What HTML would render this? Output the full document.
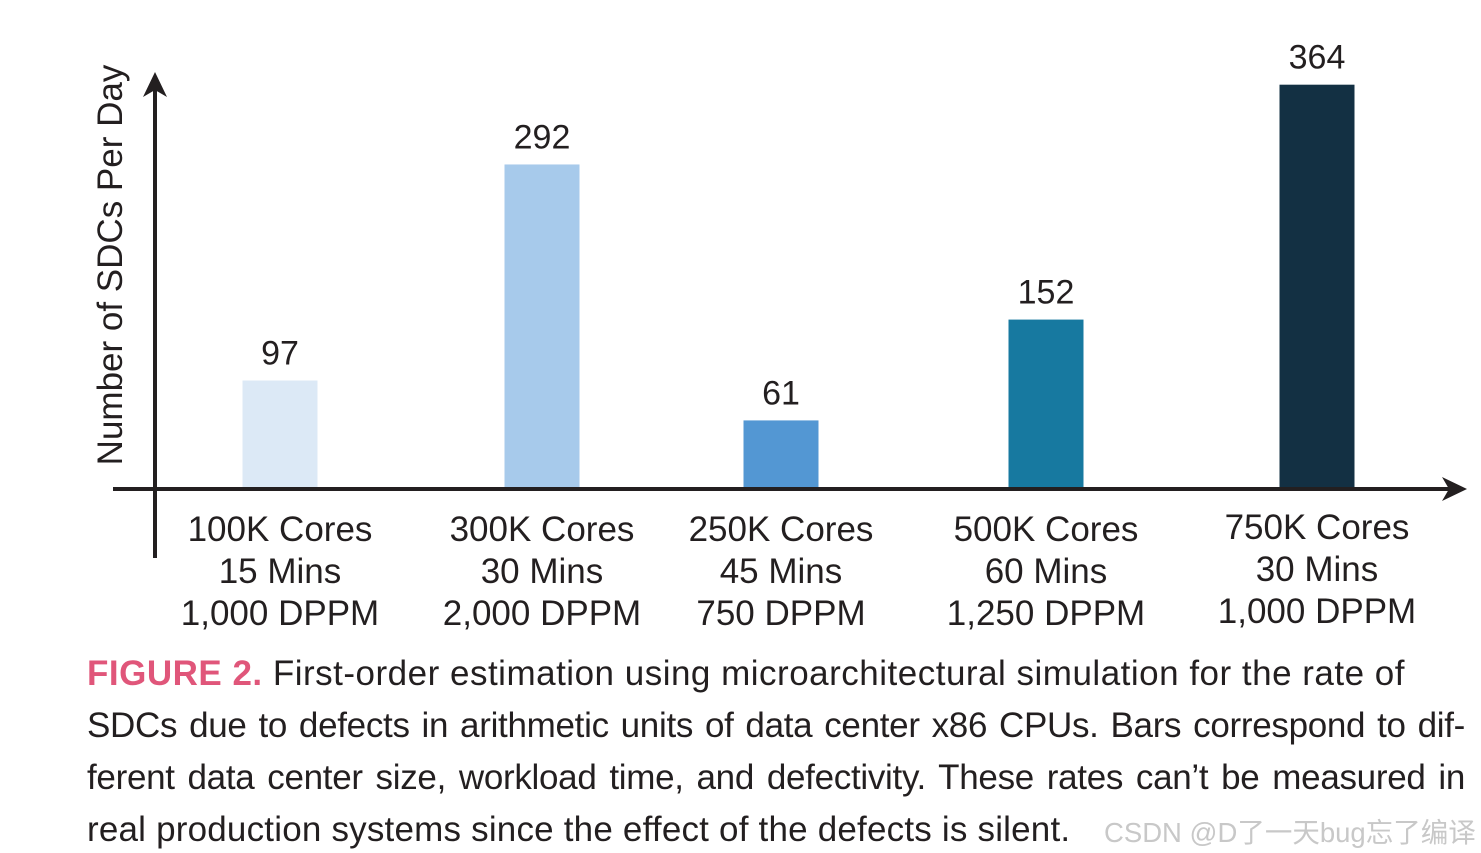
<!DOCTYPE html>
<html><head><meta charset="utf-8">
<style>
body{margin:0;width:1481px;height:853px;background:#fff;overflow:hidden;font-family:"Liberation Sans",sans-serif;}
.cap{position:absolute;left:87px;width:1378px;font-size:35px;color:#231f20;white-space:nowrap;letter-spacing:0.5px}
.j{text-align:justify;text-align-last:justify;letter-spacing:-0.3px}
</style></head>
<body>
<svg width="1481" height="650" style="position:absolute;left:0;top:0">
<g id="bars"></g>
<line x1="155" y1="88" x2="155" y2="558" stroke="#231f20" stroke-width="4"/>
<path d="M143,97 L155,72 L167,97 L155,90 Z" fill="#231f20"/>
<line x1="113" y1="489" x2="1452" y2="489" stroke="#231f20" stroke-width="4"/>
<path d="M1442,477 L1467,489 L1442,501 L1449,489 Z" fill="#231f20"/>
<text transform="translate(122,265) rotate(-90)" text-anchor="middle" font-size="35" fill="#231f20">Number of SDCs Per Day</text>
</svg>
<div class="cap" style="top:654px"><span style="color:#e0567a;font-weight:bold">FIGURE 2.</span> First-order estimation using microarchitectural simulation for the rate of</div>
<div class="cap j" style="top:706px">SDCs due to defects in arithmetic units of data center x86 CPUs. Bars correspond to dif-</div>
<div class="cap j" style="top:758px">ferent data center size, workload time, and defectivity. These rates can’t be measured in</div>
<div class="cap" style="top:810px;letter-spacing:0.2px">real production systems since the effect of the defects is silent.</div>
<div style="position:absolute;left:1104px;top:810px;font-size:27.5px;color:#c8c8c8;font-family:'Liberation Sans','Noto Sans CJK SC',sans-serif;white-space:nowrap">CSDN @D了一天bug忘了编译</div>
<script>
const categories=[["100K Cores","15 Mins","1,000 DPPM"],["300K Cores","30 Mins","2,000 DPPM"],["250K Cores","45 Mins","750 DPPM"],["500K Cores","60 Mins","1,250 DPPM"],["750K Cores","30 Mins","1,000 DPPM"]];
const values=[97,292,61,152,364];
const colors=["#dce9f6","#a7caeb","#5397d3","#1779a0","#133043"];
const centers=[280,542,781,1046,1317];
const base=488, scale=1.108, bw=75;
const yOf=v=>base-v*scale;
const g=document.getElementById('bars');
const NS="http://www.w3.org/2000/svg";
values.forEach((v,i)=>{
  const r=document.createElementNS(NS,'rect');
  r.setAttribute('x',centers[i]-bw/2);r.setAttribute('y',yOf(v));
  r.setAttribute('width',bw);r.setAttribute('height',base-yOf(v));r.setAttribute('fill',colors[i]);
  
  
  g.appendChild(r);
  const t=document.createElementNS(NS,'text');
  t.setAttribute('x',centers[i]);t.setAttribute('y',yOf(v)-16);
  t.setAttribute('text-anchor','middle');t.setAttribute('font-size','34');t.setAttribute('fill','#231f20');
  t.textContent=v;
  
  
  g.appendChild(t);
  categories[i].forEach((s,k)=>{
    const c=document.createElementNS(NS,'text');
    c.setAttribute('x',centers[i]);c.setAttribute('y',(i==4?539:541)+k*42);
    c.setAttribute('text-anchor','middle');c.setAttribute('font-size','35');c.setAttribute('fill','#231f20');
    c.textContent=s;
    
    
    g.appendChild(c);
  });
});
</script>
</body></html>
